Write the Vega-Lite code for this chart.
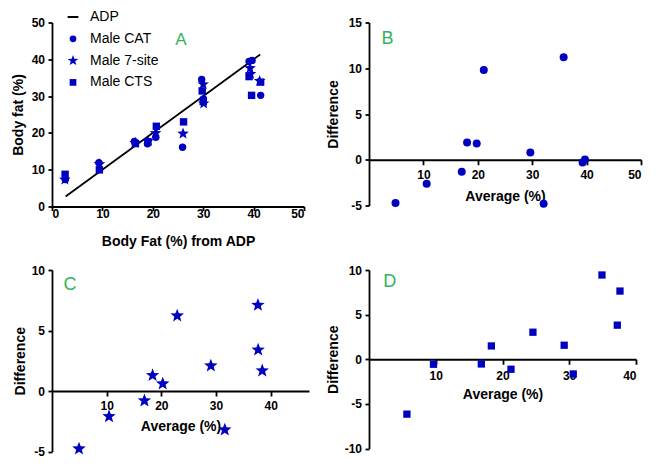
{
  "$schema": "https://vega.github.io/schema/vega-lite/v6.json",
  "padding": {"left": 11, "top": 9.5, "right": 5, "bottom": 5},
  "bounds": "flush",
  "align": {"row": "all", "column": "none"},
  "columns": 2,
  "spacing": {"row": 63.5, "column": 60},
  "datasets": {
    "adpline": [{"adp": 2.7, "bf": 2.7}, {"adp": 41.3, "bf": 41.3}],
    "a": [
      {"adp": 2.65, "bf": 7.35, "method": "Male CAT"},
      {"adp": 9.3, "bf": 11.9, "method": "Male CAT"},
      {"adp": 16.35, "bf": 17.65, "method": "Male CAT"},
      {"adp": 18.95, "bf": 17.05, "method": "Male CAT"},
      {"adp": 20.6, "bf": 18.8, "method": "Male CAT"},
      {"adp": 25.9, "bf": 16.1, "method": "Male CAT"},
      {"adp": 30.05, "bf": 29.25, "method": "Male CAT"},
      {"adp": 29.7, "bf": 34.5, "method": "Male CAT"},
      {"adp": 39.1, "bf": 39.4, "method": "Male CAT"},
      {"adp": 39.7, "bf": 39.7, "method": "Male CAT"},
      {"adp": 41.4, "bf": 30.2, "method": "Male CAT"},
      {"adp": 2.55, "bf": 7.3, "method": "Male 7-site"},
      {"adp": 9.4, "bf": 11.5, "method": "Male 7-site"},
      {"adp": 16.5, "bf": 17.3, "method": "Male 7-site"},
      {"adp": 19.05, "bf": 17.75, "method": "Male 7-site"},
      {"adp": 20.55, "bf": 19.95, "method": "Male 7-site"},
      {"adp": 26.0, "bf": 19.8, "method": "Male 7-site"},
      {"adp": 30.1, "bf": 28.0, "method": "Male 7-site"},
      {"adp": 30.0, "bf": 33.2, "method": "Male 7-site"},
      {"adp": 39.3, "bf": 37.6, "method": "Male 7-site"},
      {"adp": 39.4, "bf": 36.0, "method": "Male 7-site"},
      {"adp": 41.2, "bf": 34.1, "method": "Male 7-site"},
      {"adp": 2.6, "bf": 8.75, "method": "Male CTS"},
      {"adp": 9.4, "bf": 9.95, "method": "Male CTS"},
      {"adp": 16.55, "bf": 17.1, "method": "Male CTS"},
      {"adp": 19.05, "bf": 17.6, "method": "Male CTS"},
      {"adp": 20.7, "bf": 21.8, "method": "Male CTS"},
      {"adp": 26.1, "bf": 23.0, "method": "Male CTS"},
      {"adp": 30.0, "bf": 28.5, "method": "Male CTS"},
      {"adp": 29.8, "bf": 31.4, "method": "Male CTS"},
      {"adp": 39.1, "bf": 35.3, "method": "Male CTS"},
      {"adp": 39.6, "bf": 30.2, "method": "Male CTS"},
      {"adp": 41.4, "bf": 33.8, "method": "Male CTS"}
    ],
    "b": [
      {"avg": 4.87, "diff": -4.73}, {"avg": 10.6, "diff": -2.62}, {"avg": 17.05, "diff": -1.31},
      {"avg": 18.03, "diff": 1.89}, {"avg": 19.8, "diff": 1.78}, {"avg": 21.1, "diff": 9.82},
      {"avg": 29.66, "diff": 0.8}, {"avg": 32.1, "diff": -4.8}, {"avg": 35.78, "diff": 11.2},
      {"avg": 39.27, "diff": -0.29}, {"avg": 39.7, "diff": 0.04}
    ],
    "c": [
      {"avg": 4.94, "diff": -4.77}, {"avg": 10.43, "diff": -2.1}, {"avg": 16.9, "diff": -0.8},
      {"avg": 18.4, "diff": 1.29}, {"avg": 20.25, "diff": 0.6}, {"avg": 22.9, "diff": 6.22},
      {"avg": 29.05, "diff": 2.09}, {"avg": 31.6, "diff": -3.2}, {"avg": 37.66, "diff": 7.1},
      {"avg": 37.7, "diff": 3.4}, {"avg": 38.45, "diff": 1.68}
    ],
    "d": [
      {"avg": 5.68, "diff": -6.15}, {"avg": 9.66, "diff": -0.56}, {"avg": 16.83, "diff": -0.53},
      {"avg": 18.33, "diff": 1.49}, {"avg": 21.27, "diff": -1.12}, {"avg": 24.56, "diff": 3.03},
      {"avg": 29.24, "diff": 1.57}, {"avg": 30.6, "diff": -1.65}, {"avg": 34.9, "diff": 9.44},
      {"avg": 37.2, "diff": 3.82}, {"avg": 37.6, "diff": 7.64}
    ]
  },
  "concat": [
    {
      "width": 252,
      "height": 184,
      "encoding": {
        "x": {"field": "adp", "type": "quantitative", "scale": {"domain": [0, 50], "nice": false},
              "axis": {"title": "Body Fat (%) from ADP", "values": [0, 10, 20, 30, 40, 50], "labelOverlap": false, "labelPadding": -2, "titlePadding": 15}},
        "y": {"field": "bf", "type": "quantitative", "scale": {"domain": [0, 50], "nice": false},
              "axis": {"title": "Body fat (%)", "values": [0, 10, 20, 30, 40, 50], "tickCount": 6, "labelOverlap": false, "titlePadding": 5.5}}
      },
      "layer": [
        {
          "data": {"name": "adpline"},
          "mark": {"type": "line", "color": "black", "strokeWidth": 1.8}
        },
        {
          "data": {"name": "a"},
          "mark": {"type": "point", "filled": true, "opacity": 1, "size": 55},
          "encoding": {
            "color": {"field": "method", "type": "nominal",
              "scale": {"domain": ["ADP", "Male CAT", "Male 7-site", "Male CTS"], "range": ["black", "#0000c0", "#0000c0", "#0000c0"]},
              "legend": {"orient": "none", "legendX": 14, "legendY": -12.5, "title": null, "labelFontSize": 14, "labelFont": "Liberation Sans", "labelColor": "black", "symbolSize": 45, "rowPadding": 7.8, "padding": 0, "labelOffset": 10}},
            "shape": {"field": "method", "type": "nominal",
              "scale": {"domain": ["ADP", "Male CAT", "Male 7-site", "Male CTS"], "range": ["M-1.6,-0.3H1.6V0.3H-1.6Z", "circle", "M0,-1.65L0.407,-0.561L1.569,-0.51L0.659,0.214L0.97,1.335L0,0.693L-0.97,1.335L-0.659,0.214L-1.569,-0.51L-0.407,-0.561Z", "square"]},
              "legend": {"orient": "none", "legendX": 14, "legendY": -12.5, "title": null, "labelFontSize": 14, "labelFont": "Liberation Sans", "labelColor": "black", "symbolSize": 45, "rowPadding": 7.8, "padding": 0, "labelOffset": 10}}
          }
        },
        {
          "data": {"values": [{"adp": 25.6, "bf": 45.3, "t": "A"}]},
          "mark": {"type": "text", "color": "#33b35a", "fontSize": 17, "font": "Liberation Sans", "align": "center", "baseline": "middle"},
          "encoding": {
            "text": {"field": "t"}
          }
        }
      ]
    },
    {
      "width": 272,
      "height": 183,
      "layer": [
        {
          "data": {"name": "b"},
          "mark": {"type": "circle", "opacity": 1, "size": 64, "color": "#0000c0"},
          "encoding": {
            "x": {"field": "avg", "type": "quantitative", "scale": {"domain": [0, 50], "nice": false},
                  "axis": {"title": "Average (%)", "values": [10, 20, 30, 40, 50], "offset": -45.75, "tickSize": 5, "labelPadding": 5, "titlePadding": 9}},
            "y": {"field": "diff", "type": "quantitative", "scale": {"domain": [-5, 15], "nice": false},
                  "axis": {"title": "Difference", "values": [-5, 0, 5, 10, 15], "titlePadding": 8, "labelExpr": "replace(datum.label, '\u2212', '-')"}}
          }
        },
        {
          "data": {"values": [{"avg": 3.4, "diff": 13.2, "t": "B"}]},
          "mark": {"type": "text", "color": "#33b35a", "fontSize": 18, "font": "Liberation Sans", "align": "center", "baseline": "middle"},
          "encoding": {
            "x": {"field": "avg", "type": "quantitative", "title": "Average (%)"},
            "y": {"field": "diff", "type": "quantitative", "title": "Difference"},
            "text": {"field": "t"}
          }
        }
      ]
    },
    {
      "width": 257,
      "height": 181.5,
      "layer": [
        {
          "data": {"name": "c"},
          "mark": {"type": "point", "filled": true, "opacity": 1, "size": 110, "color": "#0000c0",
                   "shape": "M0,-1.35L0.333,-0.459L1.284,-0.417L0.539,0.175L0.794,1.092L0,0.567L-0.794,1.092L-0.539,0.175L-1.284,-0.417L-0.333,-0.459Z"},
          "encoding": {
            "x": {"field": "avg", "type": "quantitative", "scale": {"domain": [0, 47], "nice": false},
                  "axis": {"title": "Average (%)", "values": [10, 20, 30, 40], "offset": -60.5, "tickSize": 5, "labelPadding": 4.4, "titlePadding": 7.6}},
            "y": {"field": "diff", "type": "quantitative", "scale": {"domain": [-5, 10], "nice": false},
                  "axis": {"title": "Difference", "values": [-5, 0, 5, 10], "titlePadding": 4, "labelExpr": "replace(datum.label, '\u2212', '-')"}}
          }
        },
        {
          "data": {"values": [{"avg": 3.3, "diff": 8.8, "t": "C"}]},
          "mark": {"type": "text", "color": "#33b35a", "fontSize": 18, "font": "Liberation Sans", "align": "center", "baseline": "middle"},
          "encoding": {
            "x": {"field": "avg", "type": "quantitative", "title": "Average (%)"},
            "y": {"field": "diff", "type": "quantitative", "title": "Difference"},
            "text": {"field": "t"}
          }
        }
      ]
    },
    {
      "width": 267,
      "height": 178.5,
      "layer": [
        {
          "data": {"name": "d"},
          "mark": {"type": "square", "opacity": 1, "size": 53, "color": "#0000c0"},
          "encoding": {
            "x": {"field": "avg", "type": "quantitative", "scale": {"domain": [0, 40], "nice": false},
                  "axis": {"title": "Average (%)", "values": [10, 20, 30, 40], "offset": -89.25, "tickSize": 5, "labelPadding": 6.4, "titlePadding": 6.3}},
            "y": {"field": "diff", "type": "quantitative", "scale": {"domain": [-10, 10], "nice": false},
                  "axis": {"title": "Difference", "values": [-10, -5, 0, 5, 10], "titlePadding": 3.2, "labelExpr": "replace(datum.label, '\u2212', '-')"}}
          }
        },
        {
          "data": {"values": [{"avg": 3.1, "diff": 8.7, "t": "D"}]},
          "mark": {"type": "text", "color": "#33b35a", "fontSize": 18, "font": "Liberation Sans", "align": "center", "baseline": "middle"},
          "encoding": {
            "x": {"field": "avg", "type": "quantitative", "title": "Average (%)"},
            "y": {"field": "diff", "type": "quantitative", "title": "Difference"},
            "text": {"field": "t"}
          }
        }
      ]
    }
  ],
  "config": {
    "font": "Liberation Sans",
    "background": "white",
    "view": {"stroke": null},
    "axis": {
      "grid": false,
      "labelOverlap": false,
      "domainColor": "black",
      "domainWidth": 1.8,
      "tickColor": "black",
      "tickWidth": 1.8,
      "tickSize": 4,
      "labelFont": "Liberation Sans",
      "labelFontWeight": "bold",
      "labelFontSize": 12,
      "labelColor": "black",
      "labelPadding": 3.5,
      "titleFont": "Liberation Sans",
      "titleFontSize": 14,
      "titleFontWeight": "bold",
      "titleColor": "black"
    }
  }
}
